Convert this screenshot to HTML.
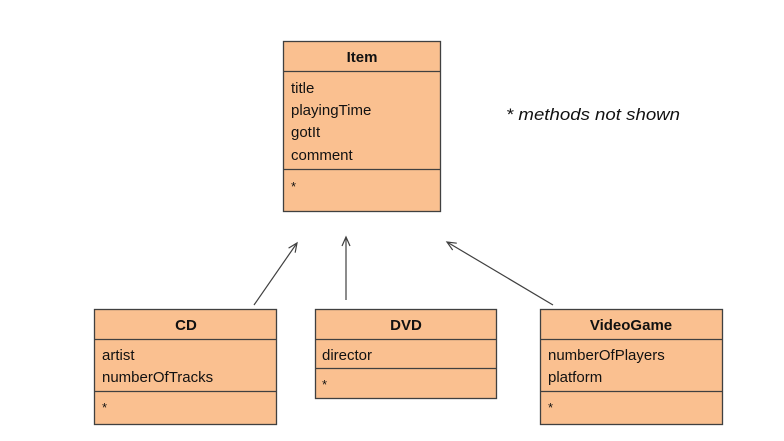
<!DOCTYPE html>
<html><head><meta charset="utf-8"><style>
body{margin:0;background:#fff;width:784px;height:436px;overflow:hidden}
svg text{font-family:"Liberation Sans",sans-serif}
</style></head><body>
<svg width="784" height="436" xmlns="http://www.w3.org/2000/svg">
<defs><marker id="a" markerWidth="12" markerHeight="12" refX="10" refY="5" orient="auto" markerUnits="userSpaceOnUse"><path d="M1,1 L10,5 L1,9" fill="none" stroke="#404040" stroke-width="1.2"/></marker></defs>
<g stroke="#404040" stroke-width="1.3" fill="#FAC090">
<rect x="283.5" y="41.5" width="157" height="170"/>
<rect x="94.5" y="309.5" width="182" height="115"/>
<rect x="315.5" y="309.5" width="181" height="89"/>
<rect x="540.5" y="309.5" width="182" height="115"/>
</g>
<g stroke="#404040" stroke-width="1.3">
<line x1="283" y1="71.5" x2="441" y2="71.5"/><line x1="283" y1="169.5" x2="441" y2="169.5"/>
<line x1="94" y1="339.5" x2="277" y2="339.5"/><line x1="94" y1="391.5" x2="277" y2="391.5"/>
<line x1="315" y1="339.5" x2="497" y2="339.5"/><line x1="315" y1="368.5" x2="497" y2="368.5"/>
<line x1="540" y1="339.5" x2="723" y2="339.5"/><line x1="540" y1="391.5" x2="723" y2="391.5"/>
</g>
<g stroke="#404040" stroke-width="1.2" fill="none" marker-end="url(#a)">
<line x1="254" y1="305" x2="297" y2="243"/>
<line x1="346" y1="300" x2="346" y2="237"/>
<line x1="553" y1="305" x2="447" y2="242"/>
</g>
<g font-size="15" fill="#111">
<text x="362" y="62" text-anchor="middle" font-weight="bold">Item</text>
<text x="291" y="93">title</text><text x="291" y="115">playingTime</text><text x="291" y="137">gotIt</text><text x="291" y="160">comment</text>
<text x="291" y="191" font-size="13">*</text>
<text x="186" y="330" text-anchor="middle" font-weight="bold">CD</text>
<text x="102" y="360">artist</text><text x="102" y="382">numberOfTracks</text>
<text x="102" y="412" font-size="13">*</text>
<text x="406" y="330" text-anchor="middle" font-weight="bold">DVD</text>
<text x="322" y="360">director</text>
<text x="322" y="389" font-size="13">*</text>
<text x="631" y="330" text-anchor="middle" font-weight="bold">VideoGame</text>
<text x="548" y="360">numberOfPlayers</text><text x="548" y="382">platform</text>
<text x="548" y="412" font-size="13">*</text>
<text x="506" y="120" font-size="17" font-style="italic" textLength="174" lengthAdjust="spacingAndGlyphs">* methods not shown</text>
</g>
</svg>
</body></html>
